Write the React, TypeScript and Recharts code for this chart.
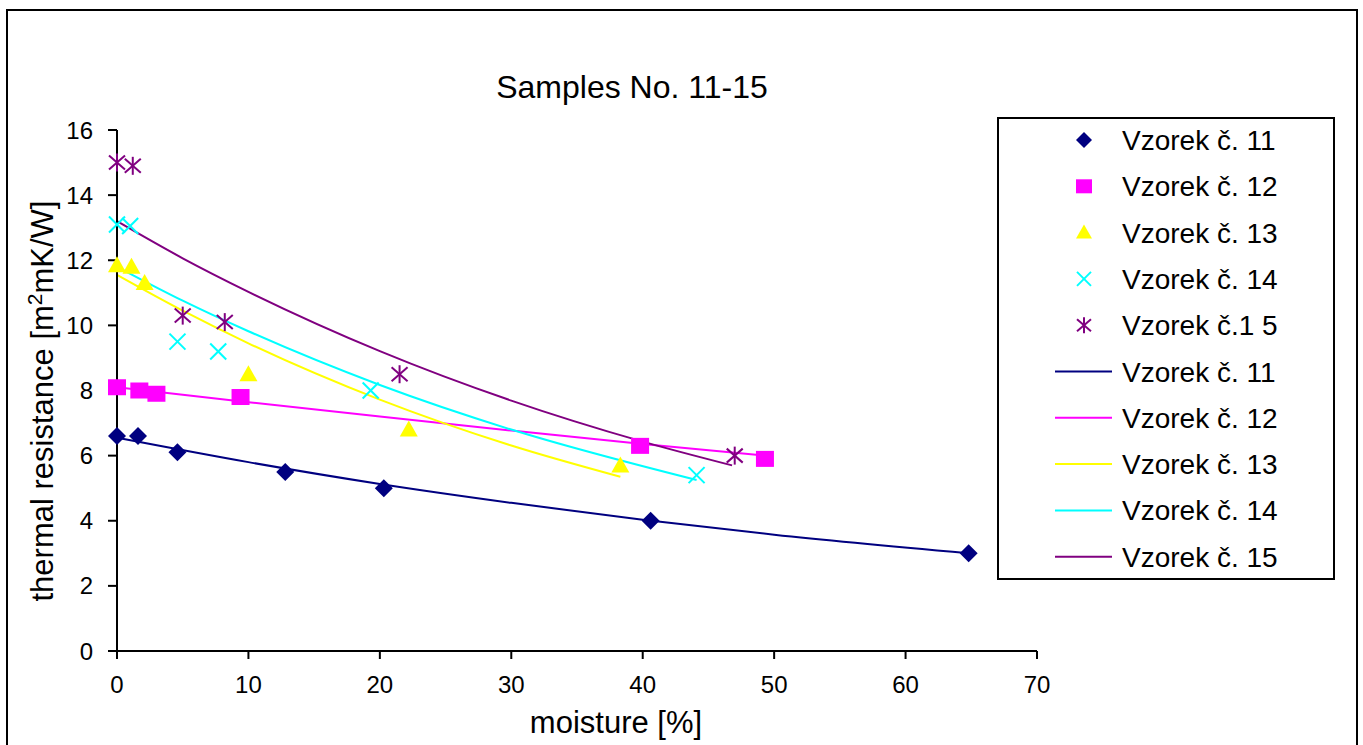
import React from 'react';
import { ComposedChart, Scatter, Line, XAxis, YAxis } from 'recharts';

// measured samples: [moisture %, thermal resistance]
const sample11: [number, number][] = [[0, 6.6], [1.6, 6.6], [4.6, 6.1], [12.8, 5.5], [20.3, 5.0], [40.6, 4.0], [64.8, 3.0]];
const sample12: [number, number][] = [[0, 8.1], [1.7, 8.0], [3.0, 7.9], [9.4, 7.8], [39.8, 6.3], [49.3, 5.9]];
const sample13: [number, number][] = [[0, 11.85], [1.1, 11.8], [2.1, 11.3], [10.0, 8.5], [22.2, 6.8], [38.3, 5.7]];
const sample14: [number, number][] = [[0, 13.1], [1.0, 13.05], [4.6, 9.5], [7.7, 9.2], [19.3, 8.0], [44.1, 5.4]];
const sample15: [number, number][] = [[0, 15.0], [1.2, 14.9], [5.0, 10.3], [8.2, 10.1], [21.5, 8.5], [47.0, 6.0]];

// trend lines, values
const trend11: [number, number][] = [[0, 6.55], [10, 5.8], [20, 5.13], [30, 4.55], [40, 4.03], [50, 3.57], [64.8, 3.0]];
const trend12: [number, number][] = [[0, 8.1], [10, 7.64], [20, 7.2], [30, 6.77], [40, 6.36], [49.3, 6.0]];
const trend13: [number, number][] = [[0, 11.55], [5, 10.45], [10, 9.45], [20, 7.72], [30, 6.31], [38.3, 5.35]];
const trend14: [number, number][] = [[0, 11.8], [5, 10.76], [10, 9.82], [20, 8.17], [30, 6.8], [44.1, 5.25]];
const trend15: [number, number][] = [[0, 13.2], [5, 12.06], [10, 11.03], [20, 9.21], [30, 7.69], [40, 6.43], [46.8, 5.7]];

const xTicks = [0, 10, 20, 30, 40, 50, 60, 70];
const yTicks = [0, 2, 4, 6, 8, 10, 12, 14, 16];

const pointLabels = ['Vzorek č. 11', 'Vzorek č. 12', 'Vzorek č. 13', 'Vzorek č. 14', 'Vzorek č.1 5'];
const lineLabels = ['Vzorek č. 11', 'Vzorek č. 12', 'Vzorek č. 13', 'Vzorek č. 14', 'Vzorek č. 15'];

const NAVY = '#000080';
const MAGENTA = '#FF00FF';
const YELLOW = '#FFFF00';
const CYAN = '#00FFFF';
const PURPLE = '#800080';
const FONT = '"Liberation Sans", Arial, sans-serif';

const toPts = (arr: [number, number][]) => arr.map(([x, y]) => ({ x, y }));

type MarkerKind = 'diamond' | 'square' | 'triangle' | 'cross' | 'star';

function Marker({ kind, cx, cy, color, s = 9 }: { kind: MarkerKind; cx: number; cy: number; color: string; s?: number }) {
  switch (kind) {
    case 'diamond':
      return <polygon points={`${cx},${cy - s} ${cx + s},${cy} ${cx},${cy + s} ${cx - s},${cy}`} fill={color} />;
    case 'square':
      return <rect x={cx - s} y={cy - s + 1} width={2 * s} height={2 * s - 2} fill={color} />;
    case 'triangle':
      return <polygon points={`${cx},${cy - s} ${cx + s},${cy + s - 2} ${cx - s},${cy + s - 2}`} fill={color} />;
    case 'cross':
      return (
        <g stroke={color} strokeWidth={2}>
          <line x1={cx - s + 1} y1={cy - s + 1} x2={cx + s - 1} y2={cy + s - 1} />
          <line x1={cx - s + 1} y1={cy + s - 1} x2={cx + s - 1} y2={cy - s + 1} />
        </g>
      );
    case 'star':
      return (
        <g stroke={color} strokeWidth={2}>
          <line x1={cx - s + 1} y1={cy - s + 2} x2={cx + s - 1} y2={cy + s - 2} />
          <line x1={cx - s + 1} y1={cy + s - 2} x2={cx + s - 1} y2={cy - s + 2} />
          <line x1={cx} y1={cy - s} x2={cx} y2={cy + s} />
        </g>
      );
    default:
      return null;
  }
}

const series = [
  { data: sample11, trend: trend11, color: NAVY, kind: 'diamond' as MarkerKind },
  { data: sample12, trend: trend12, color: MAGENTA, kind: 'square' as MarkerKind },
  { data: sample13, trend: trend13, color: YELLOW, kind: 'triangle' as MarkerKind },
  { data: sample14, trend: trend14, color: CYAN, kind: 'cross' as MarkerKind },
  { data: sample15, trend: trend15, color: PURPLE, kind: 'star' as MarkerKind },
];

const tickStyle = { fill: '#000', fontSize: 24, fontFamily: FONT };

export default function App() {
  return (
    <div style={{ position: 'absolute', left: 0, top: 0, width: 1363, height: 745, background: '#fff', overflow: 'hidden' }}>
      <ComposedChart width={1363} height={745} margin={{ top: 130, right: 326, bottom: 34, left: 57 }}>
        <XAxis
          type="number"
          dataKey="x"
          domain={[0, 70]}
          ticks={xTicks}
          interval={0}
          height={60}
          tickSize={8}
          tickMargin={17}
          tick={tickStyle}
          axisLine={{ stroke: '#000', strokeWidth: 2 }}
          tickLine={{ stroke: '#000', strokeWidth: 2 }}
        />
        <YAxis
          type="number"
          dataKey="y"
          domain={[0, 16]}
          ticks={yTicks}
          interval={0}
          width={60}
          tickSize={9}
          tickMargin={15}
          tick={tickStyle}
          axisLine={{ stroke: '#000', strokeWidth: 2 }}
          tickLine={{ stroke: '#000', strokeWidth: 2 }}
        />
        {series.map((s, i) => (
          <Line
            key={`t${i}`}
            data={toPts(s.trend)}
            dataKey="y"
            type="monotone"
            stroke={s.color}
            strokeWidth={2}
            dot={false}
            activeDot={false}
            isAnimationActive={false}
          />
        ))}
        {series.map((s, i) => (
          <Scatter
            key={`s${i}`}
            data={toPts(s.data)}
            isAnimationActive={false}
            shape={(p: any) => <Marker kind={s.kind} cx={p.cx} cy={p.cy} color={s.color} />}
          />
        ))}
      </ComposedChart>

      {/* frame, titles and legend */}
      <svg width={1363} height={745} style={{ position: 'absolute', left: 0, top: 0, pointerEvents: 'none' }} fontFamily={FONT}>
        <rect x={7} y={10} width={1350} height={760} fill="none" stroke="#000" strokeWidth={2} />
        <text x={632} y={98} fontSize={32} textAnchor="middle" fill="#000">Samples No. 11-15</text>
        <text x={616} y={733} fontSize={31} textAnchor="middle" fill="#000">moisture [%]</text>
        <g transform="translate(53, 401) rotate(-90)">
          <text x={0} y={0} fontSize={31} textAnchor="middle" fill="#000">
            thermal resistance [m<tspan dy={-11} fontSize={21}>2</tspan><tspan dy={11}>mK/W]</tspan>
          </text>
        </g>

        <rect x={998} y={118} width={336} height={461} fill="#fff" stroke="#000" strokeWidth={2} />
        {pointLabels.map((label, i) => {
          const cy = 140 + i * 46.3;
          const s = series[i];
          return (
            <g key={`lp${i}`}>
              <Marker kind={s.kind} cx={1084} cy={cy} color={s.color} s={8} />
              <text x={1122} y={cy + 10} fontSize={28} fill="#000">{label}</text>
            </g>
          );
        })}
        {lineLabels.map((label, i) => {
          const cy = 140 + (i + 5) * 46.3;
          return (
            <g key={`ll${i}`}>
              <line x1={1055} x2={1112} y1={cy} y2={cy} stroke={series[i].color} strokeWidth={2} />
              <text x={1122} y={cy + 10} fontSize={28} fill="#000">{label}</text>
            </g>
          );
        })}
      </svg>
    </div>
  );
}
